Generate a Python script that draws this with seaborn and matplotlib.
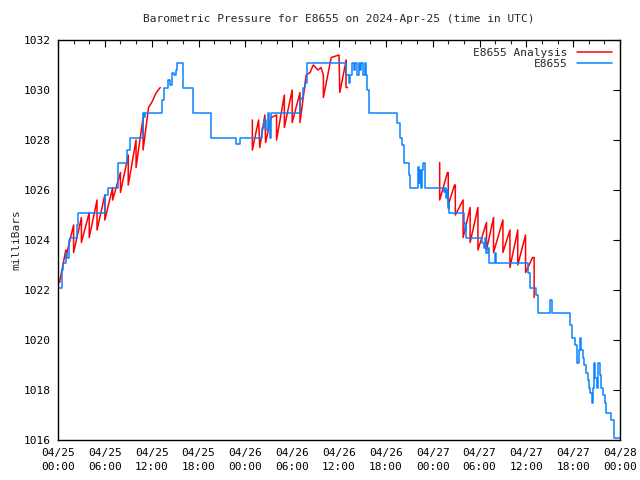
import numpy as np
import pandas as pd
import matplotlib
matplotlib.use("Agg")
import matplotlib.pyplot as plt
import seaborn as sns
from matplotlib.ticker import MultipleLocator

# observations (E8655): change points, hours since 2024-04-25 00:00 UTC -> mb
obs_hours = [0.0, 0.17, 0.51, 0.68, 1.03, 1.15, 1.37, 1.54, 2.4, 2.6, 6.06, 6.37, 7.69,
             8.85, 9.23, 10.83, 11.03, 11.15, 13.33, 13.59, 14.14, 14.36, 14.65, 14.87,
             15.06, 15.29, 15.96, 17.24, 19.62, 22.76, 23.27, 26.15, 26.4, 26.67, 26.86,
             27.05, 27.18, 27.35, 31.03, 31.15, 31.4, 31.67, 31.92, 36.92, 37.22, 37.44,
             37.65, 37.86, 38.08, 38.29, 38.5, 38.72, 38.85, 39.06, 39.27, 39.4, 39.57,
             39.79, 43.42, 43.78, 44.1, 44.27, 44.91, 45.04, 46.07, 46.24, 46.32, 46.45,
             46.58, 46.71, 47.05, 49.49, 49.62, 49.74, 49.83, 49.96, 50.04, 50.13, 51.96,
             52.09, 52.22, 52.3, 54.32, 54.53, 54.74, 54.87, 55.04, 55.17, 56.03, 56.15,
             60.09, 60.22, 60.43, 61.24, 61.45, 63.08, 63.33, 65.64, 65.86, 66.28, 66.45,
             66.76, 66.88, 67.05, 67.22, 67.44, 67.65, 67.86, 68.08, 68.21, 68.38, 68.59,
             68.72, 68.85, 69.02, 69.19, 69.44, 69.62, 69.87, 70.04, 70.17, 70.9, 71.2, 72.0]
obs_mb = [1022.1, 1022.1, 1022.8, 1023.1, 1023.5, 1023.3, 1024.0, 1024.1, 1024.6, 1025.1,
          1025.8, 1026.1, 1027.1, 1027.6, 1028.1, 1029.1, 1028.9, 1029.1, 1029.6, 1030.1,
          1030.4, 1030.2, 1030.7, 1030.6, 1030.8, 1031.1, 1030.1, 1029.1, 1028.1, 1027.84,
          1028.1, 1028.5, 1028.8, 1028.4, 1029.1, 1028.6, 1028.1, 1029.1, 1029.6, 1029.7,
          1030.1, 1030.3, 1031.1, 1030.6, 1030.3, 1030.6, 1031.1, 1030.8, 1031.1, 1030.6,
          1031.1, 1030.8, 1031.1, 1030.6, 1031.1, 1030.6, 1030.0, 1029.1, 1028.7, 1028.1,
          1027.8, 1027.1, 1026.6, 1026.1, 1026.9, 1026.3, 1026.8, 1026.1, 1026.8, 1027.1,
          1026.1, 1025.9, 1026.1, 1025.7, 1026.0, 1025.3, 1025.5, 1025.1, 1024.7, 1024.4,
          1024.6, 1024.1, 1023.9, 1023.7, 1024.1, 1023.5, 1023.7, 1023.1, 1023.5, 1023.1,
          1023.1, 1022.7, 1022.1, 1021.8, 1021.1, 1021.6, 1021.1, 1020.6, 1020.1, 1019.8,
          1019.1, 1019.6, 1020.1, 1019.6, 1019.3, 1019.0, 1018.7, 1018.4, 1018.1, 1017.9,
          1017.5, 1018.1, 1019.1, 1018.5, 1018.1, 1019.1, 1018.6, 1018.1, 1017.8, 1017.5,
          1017.1, 1016.8, 1016.1, 1016.1]

# analysis (E8655 Analysis): three runs of polyline vertices
ana1_hours = [0.2, 1.0, 1.0, 2.0, 2.0, 3.0, 3.0, 4.0, 4.0, 5.0, 5.0, 6.0, 6.0, 7.0, 7.0,
              8.0, 8.0, 9.0, 9.0, 10.0, 10.0, 10.9, 10.9, 11.6, 12.0, 12.6, 13.1]
ana1_mb = [1022.3, 1023.6, 1023.3, 1024.6, 1023.5, 1024.9, 1023.9, 1025.1, 1024.1, 1025.6,
           1024.4, 1025.8, 1024.8, 1026.1, 1025.6, 1026.7, 1025.9, 1027.4, 1026.2, 1028.0,
           1026.9, 1028.9, 1027.6, 1029.3, 1029.5, 1029.9, 1030.1]
ana2_hours = [24.9, 24.9, 25.7, 25.85, 26.5, 26.6, 27.3, 28.0, 28.0, 29.0, 29.0, 30.0,
              30.0, 31.0, 31.0, 31.8, 32.3, 32.7, 33.3, 33.7, 34.0, 34.0, 35.0, 36.0,
              36.1, 36.8, 36.9, 36.9, 37.1]
ana2_mb = [1028.8, 1027.6, 1028.8, 1027.7, 1029.0, 1027.9, 1028.9, 1029.0, 1028.0, 1029.8,
           1028.5, 1030.0, 1028.7, 1029.9, 1028.7, 1030.6, 1030.7, 1031.0, 1030.8, 1030.9,
           1030.6, 1029.7, 1031.3, 1031.4, 1029.9, 1031.0, 1031.2, 1030.1, 1030.1]
ana3_hours = [48.9, 48.9, 49.9, 50.0, 50.0, 50.8, 50.9, 50.9, 51.9, 51.9, 52.8, 52.8, 53.8,
              53.8, 54.9, 54.9, 55.8, 55.8, 57.0, 57.0, 57.9, 57.9, 58.9, 58.9, 59.9, 59.9,
              60.8, 61.0, 61.0]
ana3_mb = [1027.1, 1025.6, 1026.7, 1026.7, 1025.4, 1026.2, 1026.2, 1025.0, 1025.6, 1024.1,
           1025.3, 1023.9, 1025.3, 1023.6, 1024.7, 1023.6, 1024.9, 1023.5, 1024.8, 1023.5,
           1024.4, 1022.9, 1024.4, 1023.0, 1024.2, 1022.7, 1023.3, 1023.3, 1021.7]

tick_labels = ["04/25\n00:00", "04/25\n06:00", "04/25\n12:00", "04/25\n18:00",
               "04/26\n00:00", "04/26\n06:00", "04/26\n12:00", "04/26\n18:00",
               "04/27\n00:00", "04/27\n06:00", "04/27\n12:00", "04/27\n18:00",
               "04/28\n00:00"]

sns.set_style("white")
plt.rcParams["font.family"] = ["DejaVu Sans Mono"]

fig = plt.figure(figsize=(6.4, 4.8), dpi=100)
ax = fig.add_axes([58 / 640, 40 / 480, 562 / 640, 400 / 480])

red = "#ff0000"
blue = "#0a84ff"
segments = [(ana1_hours, ana1_mb), (ana2_hours, ana2_mb), (ana3_hours, ana3_mb)]
for i, (h, v) in enumerate(segments):
    df = pd.DataFrame({"hour": h, "mb": v})
    sns.lineplot(data=df, x="hour", y="mb", ax=ax, color=red, lw=1.1,
                 estimator=None, sort=False,
                 label="E8655 Analysis" if i == 0 else None)

obs = pd.DataFrame({"hour": obs_hours, "mb": obs_mb})
sns.lineplot(data=obs, x="hour", y="mb", ax=ax, color=blue, lw=1.1,
             estimator=None, sort=False, drawstyle="steps-post", label="E8655")

ax.set_xlim(0, 72)
ax.set_ylim(1016, 1032)
ax.set_xticks(np.arange(0, 73, 6))
ax.set_xticklabels(tick_labels, linespacing=1.5)
ax.xaxis.set_minor_locator(MultipleLocator(2))
ax.set_yticks(np.arange(1016, 1033, 2))
ax.tick_params(axis="both", which="major", direction="in", length=5, width=0.8,
               top=True, right=True, labelsize=8, colors="black", pad=5)
ax.tick_params(axis="x", which="major", pad=6)
ax.tick_params(axis="both", which="minor", direction="in", length=3, width=0.8,
               top=True, right=True)
for s in ax.spines.values():
    s.set_color("black")
    s.set_linewidth(1.0)

ax.set_xlabel("")
ax.set_ylabel("milliBars", fontsize=8, labelpad=2)
ax.set_title("Barometric Pressure for E8655 on 2024-Apr-25 (time in UTC)",
             fontsize=8, pad=13)

ax.legend(loc="upper right", frameon=False, markerfirst=False, fontsize=8,
          handlelength=3.2, handletextpad=0.8, labelspacing=0.1,
          borderaxespad=0.3)

fig.savefig("out.png", dpi=100)
